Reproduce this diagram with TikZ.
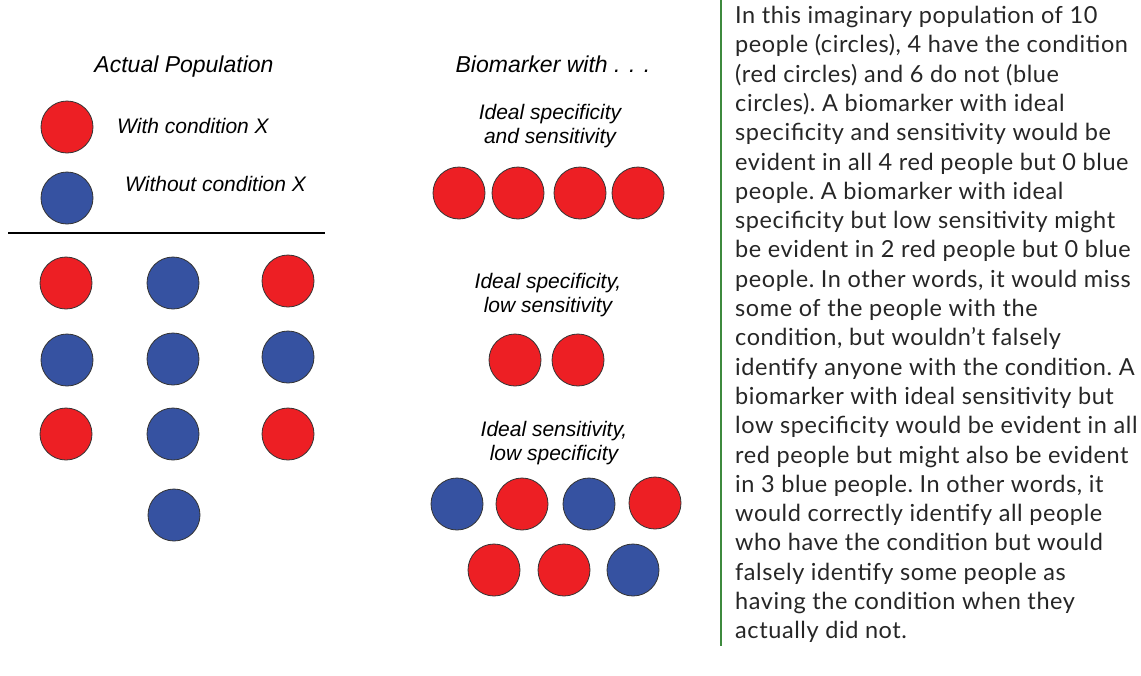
\documentclass[tikz,border=0pt]{standalone}
\usepackage{fontspec}
\setmainfont{Lato}[LetterSpace=2.5]
\newfontfamily\arialfont{Liberation Sans}
\definecolor{condred}{RGB}{237,31,36}
\definecolor{condblue}{RGB}{54,82,161}
\definecolor{bargreen}{RGB}{62,138,62}

\begin{document}
\begin{tikzpicture}[x=1pt,y=-1pt,
            red node/.style={circle,fill=condred,draw=black!80,line width=0.8pt,minimum size=52pt,inner sep=0pt},
            blue node/.style={circle,fill=condblue,draw=black!80,line width=0.8pt,minimum size=52pt,inner sep=0pt},
            head node/.style={font=\arialfont\itshape\fontsize{23}{27}\selectfont,inner sep=0pt},
            caption node/.style={font=\arialfont\itshape\fontsize{21}{24}\selectfont,inner sep=0pt,align=center},
            ]
            \useasboundingbox (0,0) rectangle (1141,675);

            % legend
            \node[head node, anchor=base] (actual) at (184,72) {Actual Population};
            \node[red node] (legred) at (67,127) {};
            \node[blue node] (legblue) at (67,198) {};
            \node[caption node, anchor=base west] (withx) at (117,133) {With condition X};
            \node[caption node, anchor=base west] (withoutx) at (125,191) {Without condition X};
            \draw[line width=1.6pt] (8,233) -- (325,233);

            % population
            \node[red node] (p1) at (66,283) {};
            \node[blue node] (p2) at (173,283) {};
            \node[red node] (p3) at (288,281) {};
            \node[blue node] (p4) at (67,360) {};
            \node[blue node] (p5) at (173,359) {};
            \node[blue node] (p6) at (288,357) {};
            \node[red node] (p7) at (66,434) {};
            \node[blue node] (p8) at (173,434) {};
            \node[red node] (p9) at (288,434) {};
            \node[blue node] (p10) at (174,515) {};

            % biomarkers
            \node[head node, anchor=base] (biomarker) at (553,72) {Biomarker with . . .};

            \node[caption node, anchor=north] (ideal) at (550,104) {Ideal specificity\\and sensitivity};
            \node[red node] (a1) at (459,193) {};
            \node[red node] (a2) at (518,193) {};
            \node[red node] (a3) at (580,193) {};
            \node[red node] (a4) at (638,193) {};

            \node[caption node, anchor=north] (lowsens) at (548,273) {Ideal specificity,\\low sensitivity};
            \node[red node] (b1) at (515,360) {};
            \node[red node] (b2) at (578,360) {};

            \node[caption node, anchor=north] (lowspec) at (554,421) {Ideal sensitivity,\\low specificity};
            \node[blue node] (c1) at (457,504) {};
            \node[red node] (c2) at (522,504) {};
            \node[blue node] (c3) at (589,504) {};
            \node[red node] (c4) at (655,503) {};
            \node[red node] (c5) at (494,570) {};
            \node[red node] (c6) at (564,570) {};
            \node[blue node] (c7) at (633,570) {};

            % explanation
            \draw[bargreen, line width=2pt] (721,0) -- (721,646);
            \node[anchor=north west, inner sep=0pt, align=left, text=black!85,
                  font=\fontsize{23.5}{29.3}\selectfont\frenchspacing] (explain) at (735,6)
                {In this imaginary population of 10\\
                 people (circles), 4 have the condition\\
                 (red circles) and 6 do not (blue\\
                 circles). A biomarker with ideal\\
                 specificity and sensitivity would be\\
                 evident in all 4 red people but 0 blue\\
                 people. A biomarker with ideal\\
                 specificity but low sensitivity might\\
                 be evident in 2 red people but 0 blue\\
                 people. In other words, it would miss\\
                 some of the people with the\\
                 condition, but wouldn’t falsely\\
                 identify anyone with the condition. A\\
                 biomarker with ideal sensitivity but\\
                 low specificity would be evident in all\\
                 red people but might also be evident\\
                 in 3 blue people. In other words, it\\
                 would correctly identify all people\\
                 who have the condition but would\\
                 falsely identify some people as\\
                 having the condition when they\\
                 actually did not.};
        \end{tikzpicture}
\end{document}
